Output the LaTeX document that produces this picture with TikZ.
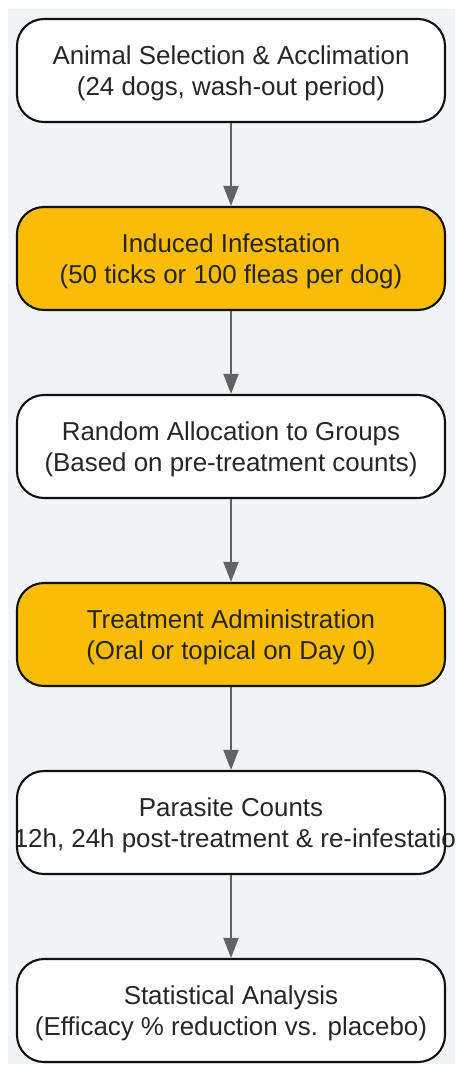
\documentclass[tikz,border=0pt]{standalone}
\usepackage{fontspec}
\setmainfont{Liberation Sans}
\usetikzlibrary{arrows.meta}
\definecolor{bggray}{HTML}{F1F3F4}
\definecolor{boxorange}{HTML}{FBBC05}
\definecolor{arrowgray}{HTML}{5F6368}
\definecolor{txt}{HTML}{262626}
\definecolor{edge}{HTML}{111111}
\newcommand{\topstrut}{\rule{0pt}{25pt}}
\tikzset{
  stagetext/.style={text=txt, align=center, font=\fontsize{25.9}{31}\selectfont},
  stage/.style={stagetext, draw=edge, line width=2.1pt, rounded corners=27pt,
    minimum width=428pt, minimum height=103pt, inner sep=0pt},
  whitebox/.style={stage, fill=white},
  orangebox/.style={stage, fill=boxorange},
  flow/.style={draw=arrowgray, line width=2pt,
    -{Triangle[length=20pt,width=15pt]}},
}
\begin{document}
\begin{tikzpicture}[x=1pt,y=-1pt]
\useasboundingbox (0,0) rectangle (458,1065);
\fill[bggray] (8,9) rectangle (454.5,1064);
\node[whitebox] (a) at (231,70.5) {\topstrut Animal Selection \& Acclimation\\(24 dogs, wash-out period)};
\node[orangebox] (b) at (231,258.5) {\topstrut Induced Infestation\\(50 ticks or 100 fleas per dog)};
\node[whitebox] (c) at (231,446.5) {\topstrut Random Allocation to Groups\\(Based on pre-treatment counts)};
\node[orangebox] (d) at (231,634.5) {\topstrut Treatment Administration\\(Oral or topical on Day 0)};
\node[whitebox] (e) at (231,822.5) {\topstrut Parasite Counts\\\vphantom{(12h, 24h post-treatment \& re-infestation)}};
\begin{scope}
\clip (18,780) rectangle (454,870);
\node[stagetext, inner sep=0pt] (etext) at (242,822.5) {\topstrut\vphantom{Parasite Counts}\\(12h, 24h post-treatment \& re-infestation)};
\end{scope}
\node[whitebox] (f) at (231,1010.5) {\topstrut Statistical Analysis\\(Efficacy \% reduction vs. placebo)};
\draw[flow] (a) -- (b);
\draw[flow] (b) -- (c);
\draw[flow] (c) -- (d);
\draw[flow] (d) -- (e);
\draw[flow] (e) -- (f);
\end{tikzpicture}
\end{document}
